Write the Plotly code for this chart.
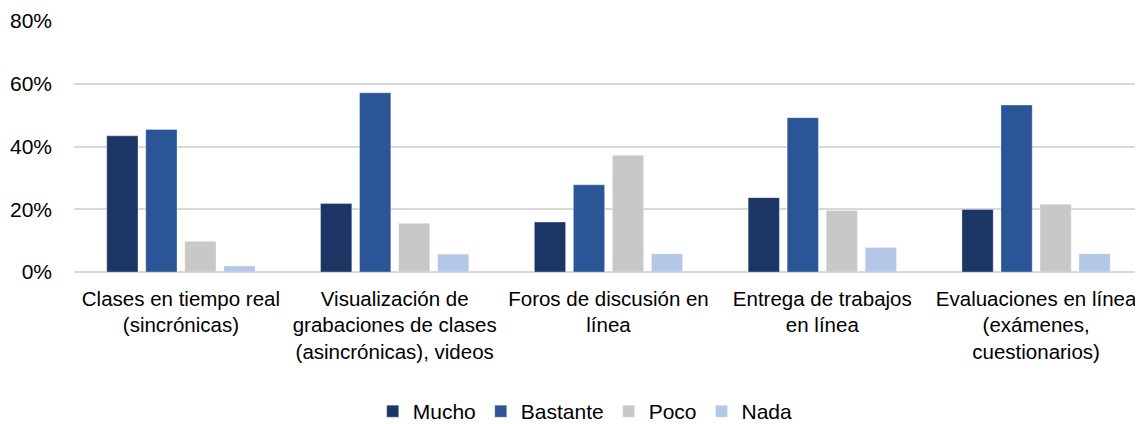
import plotly.graph_objects as go

categories = [
    "Clases en tiempo real<br>(sincrónicas)",
    "Visualización de<br>grabaciones de clases<br>(asincrónicas), videos",
    "Foros de discusión en<br>línea",
    "Entrega de trabajos<br>en línea",
    "Evaluaciones en línea<br>(exámenes,<br>cuestionarios)",
]
mucho = [0.434, 0.218, 0.159, 0.237, 0.199]
bastante = [0.454, 0.571, 0.278, 0.492, 0.532]
poco = [0.098, 0.155, 0.372, 0.196, 0.216]
nada = [0.019, 0.057, 0.058, 0.078, 0.058]

series = [
    ("Mucho", mucho, "#1B3664"),
    ("Bastante", bastante, "#2A5597"),
    ("Poco", poco, "#C8C8C8"),
    ("Nada", nada, "#B4C7E7"),
]

fig = go.Figure()
for name, vals, color in series:
    fig.add_trace(go.Bar(
        x=categories, y=vals, name=name,
        marker=dict(color=color, line=dict(color="rgba(255,255,255,0.6)", width=0.5)),
    ))

font = "Liberation Sans, Arial, sans-serif"
fig.update_layout(
    width=1143, height=424,
    margin=dict(l=66, r=8, t=13, b=160),
    paper_bgcolor="white", plot_bgcolor="white",
    barmode="group", bargap=0.27, bargroupgap=0.2,
    font=dict(family=font, size=21, color="#000000"),
    showlegend=True,
    legend=dict(orientation="h", xref="container", yref="container",
                x=0.505, xanchor="center", y=0.0, yanchor="bottom",
                font=dict(size=21), traceorder="normal"),
    yaxis=dict(range=[0, 0.8], dtick=0.2, tickformat=".0%",
               showgrid=True, gridcolor="#D9D9D9", gridwidth=1.5,
               zeroline=True, zerolinecolor="#D9D9D9", zerolinewidth=1.5,
               showline=False, ticks="", ticklen=0, ticklabelstandoff=21,
               tickfont=dict(size=21), automargin=False),
    xaxis=dict(showline=False, ticks="", tickfont=dict(size=20.5),
               ticklabelstandoff=12,
               tickangle=0, automargin=False),
)

fig.write_html("out.html")
